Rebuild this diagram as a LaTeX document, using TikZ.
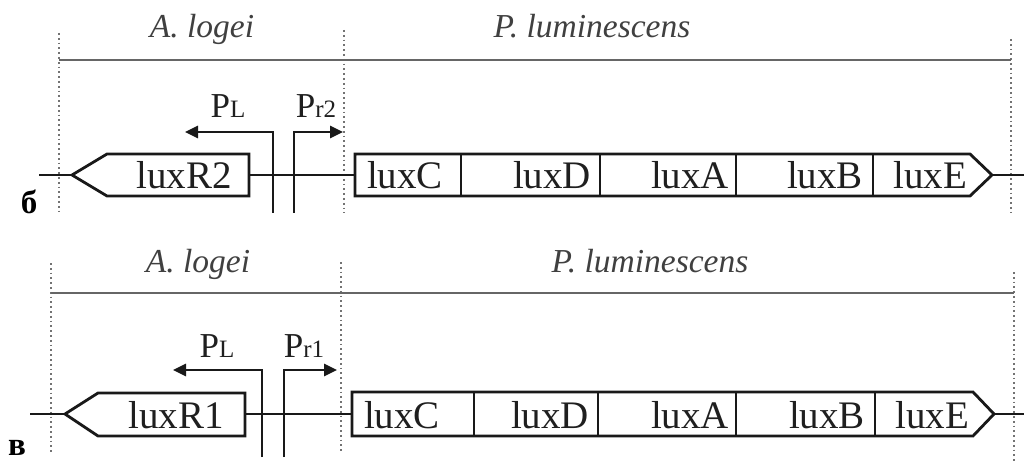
\documentclass[tikz,border=0pt]{standalone}
\usepackage{fontspec}
\setmainfont{Liberation Serif}
\usetikzlibrary{arrows.meta}
\tikzset{
  gene/.style={draw=black!90, line width=2.8pt, fill=white, line join=miter},
  bb/.style={draw=black!90, line width=2.6pt},
  prom/.style={draw=black!90, line width=2.6pt, -{Triangle[length=13pt,width=12pt]}},
  genetxt/.style={anchor=base, inner sep=0pt, text=black!88, font=\fontsize{39}{39}\selectfont},
  sptxt/.style={anchor=base, inner sep=0pt, text=black!75, font=\fontsize{33.5}{33.5}\selectfont\itshape},
  promtxt/.style={anchor=base, inner sep=0pt, text=black!88, font=\fontsize{35}{35}\selectfont},
  dotl/.style={draw=black!55, line width=1.8pt, dash pattern=on 1.8pt off 3pt},
  spline/.style={draw=black!60, line width=2pt},
  paneltxt/.style={anchor=base, inner sep=0pt, font=\fontsize{33}{33}\selectfont\bfseries},
}
\newcommand{\sm}[1]{{\fontsize{25}{25}\selectfont #1}}
\begin{document}
\begin{tikzpicture}[x=1pt,y=-1pt]
\useasboundingbox (0,0) rectangle (1024,462);
% ================= panel б =================
\draw[dotl] (59,33) -- (59,213);
\draw[dotl] (344,30) -- (344,213);
\draw[dotl] (1011,39) -- (1011,213);
\coordinate (t1l) at (59,60);
\coordinate (t1r) at (1011,60);
\draw[spline] (t1l) -- (t1r);
\node[sptxt] (alog1) at (202,38) {A. logei};
\node[sptxt] (plum1) at (592,38) {P. luminescens};
% backbone
\coordinate (b1a) at (39,175);
\coordinate (b1b) at (72,175);
\coordinate (b1c) at (249,175);
\coordinate (b1d) at (355,175);
\coordinate (b1e) at (992,175);
\coordinate (b1f) at (1024,175);
\draw[bb] (b1a) -- (b1b);
\draw[bb] (b1c) -- (b1d);
\draw[bb] (b1e) -- (b1f);
% luxR2
\draw[gene] (72,175) -- (107,154) -- (249,154) -- (249,196) -- (107,196) -- cycle;
\node[genetxt] (luxR2) at (184,189) {luxR2};
% operon
\draw[gene] (355,154) -- (970,154) -- (992,175) -- (970,196) -- (355,196) -- cycle;
\foreach \x in {461,600,736,873} \draw[gene] (\x,154) -- (\x,196);
\node[genetxt] (c1) at (405,189) {luxC};
\node[genetxt] (d1) at (552,189) {luxD};
\node[genetxt] (a1) at (690,189) {luxA};
\node[genetxt] (bb1) at (825,189) {luxB};
\node[genetxt] (e1) at (930,189) {luxE};
% promoters
\coordinate (pl1b) at (273,213);
\coordinate (pl1k) at (273,132);
\coordinate (pl1t) at (185,132);
\coordinate (pr1b) at (294,213);
\coordinate (pr1k) at (294,132);
\coordinate (pr1t) at (343,132);
\draw[prom] (pl1b) -- (pl1k) -- (pl1t);
\draw[prom] (pr1b) -- (pr1k) -- (pr1t);
\node[promtxt] (PL1) at (228,118) {P\sm{L}};
\node[promtxt] (Pr2) at (316,118) {P\sm{r2}};
\node[paneltxt] (lb) at (29,214) {б};
% ================= panel в =================
\draw[dotl] (51,263) -- (51,452);
\draw[dotl] (341,262) -- (341,452);
\draw[dotl] (1014,272) -- (1014,462);
\coordinate (t2l) at (51,293);
\coordinate (t2r) at (1014,293);
\draw[spline] (t2l) -- (t2r);
\node[sptxt] (alog2) at (198,272) {A. logei};
\node[sptxt] (plum2) at (650,272) {P. luminescens};
% backbone
\coordinate (b2a) at (30,414);
\coordinate (b2b) at (65,414);
\coordinate (b2c) at (245,414);
\coordinate (b2d) at (352,414);
\coordinate (b2e) at (994,414);
\coordinate (b2f) at (1024,414);
\draw[bb] (b2a) -- (b2b);
\draw[bb] (b2c) -- (b2d);
\draw[bb] (b2e) -- (b2f);
% luxR1
\draw[gene] (65,414) -- (98,393) -- (245,393) -- (245,436) -- (98,436) -- cycle;
\node[genetxt] (luxR1) at (176,428) {luxR1};
% operon
\draw[gene] (352,392) -- (973,392) -- (994,414) -- (973,436) -- (352,436) -- cycle;
\foreach \x in {474,598,736,875} \draw[gene] (\x,392) -- (\x,436);
\node[genetxt] (c2) at (402,428) {luxC};
\node[genetxt] (d2) at (550,428) {luxD};
\node[genetxt] (a2) at (690,428) {luxA};
\node[genetxt] (bb2) at (827,428) {luxB};
\node[genetxt] (e2) at (932,428) {luxE};
% promoters
\coordinate (pl2b) at (262,457);
\coordinate (pl2k) at (262,370);
\coordinate (pl2t) at (173,370);
\coordinate (pr2b) at (284,457);
\coordinate (pr2k) at (284,370);
\coordinate (pr2t) at (337,370);
\draw[prom] (pl2b) -- (pl2k) -- (pl2t);
\draw[prom] (pr2b) -- (pr2k) -- (pr2t);
\node[promtxt] (PL2) at (217,357) {P\sm{L}};
\node[promtxt] (Pr1) at (304,357) {P\sm{r1}};
\node[paneltxt] (lv) at (17,455) {в};
\end{tikzpicture}
\end{document}
